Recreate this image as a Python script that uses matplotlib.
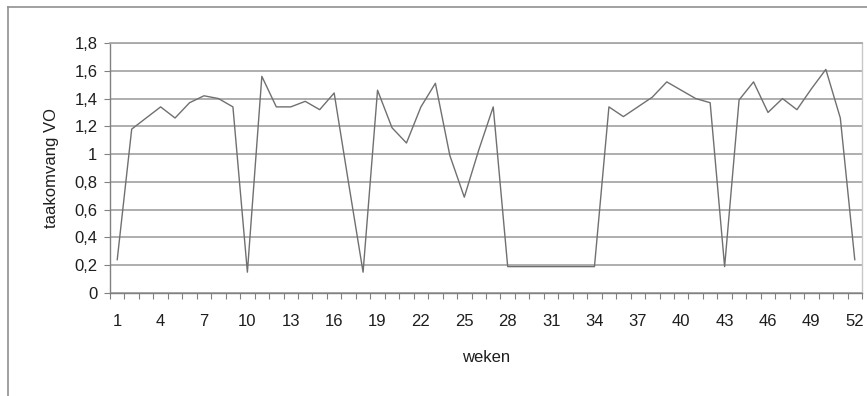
import matplotlib
matplotlib.use("Agg")
import matplotlib.pyplot as plt
from matplotlib.lines import Line2D

plt.rcParams['font.family'] = ['Liberation Sans', 'DejaVu Sans']

# weeknummers en taakomvang VO
weken = list(range(1, 53))
taakomvang = [0.24, 1.18, 1.26, 1.34, 1.26, 1.37, 1.42, 1.40, 1.34, 0.15,
              1.56, 1.34, 1.34, 1.38, 1.32, 1.44, 0.79, 0.15, 1.46, 1.19,
              1.08, 1.34, 1.51, 0.99, 0.69, 1.03, 1.34, 0.19, 0.19, 0.19,
              0.19, 0.19, 0.19, 0.19, 1.34, 1.27, 1.34, 1.41, 1.52, 1.46,
              1.40, 1.37, 0.19, 1.39, 1.52, 1.30, 1.40, 1.32, 1.47, 1.61,
              1.26, 0.24]
y_ticks = [0, 0.2, 0.4, 0.6, 0.8, 1.0, 1.2, 1.4, 1.6, 1.8]
y_labels = ['0', '0,2', '0,4', '0,6', '0,8', '1', '1,2', '1,4', '1,6', '1,8']

fs = 12
tc = '#1e1e1e'

fig = plt.figure(figsize=(8.67, 3.96), dpi=100)
ax = fig.add_axes([110 / 867, 103 / 396, 752 / 867, 250 / 396])

ax.plot(weken, taakomvang, color='#707070', linewidth=1.0, zorder=3)

ax.set_xlim(0.5, 52.5)
ax.set_ylim(0, 1.8)

# rasterlijnen
ax.set_yticks(y_ticks)
ax.set_yticklabels(y_labels)
ax.yaxis.grid(True, color='#a8a8a8', linewidth=1.3)
ax.set_axisbelow(True)

# x-as: labels elke 3 weken, streepjes tussen de categorieën
ax.set_xticks(weken[::3])
ax.set_xticks([w + 0.5 for w in [0] + weken], minor=True)
ax.tick_params(axis='x', which='major', length=0, pad=15, labelsize=fs, labelcolor=tc)
ax.tick_params(axis='x', which='minor', length=4, width=0.8, color='#808080', direction='out')
ax.tick_params(axis='y', length=4, width=0.8, color='#808080', pad=5, labelsize=fs, labelcolor=tc)

for s in ['left', 'bottom']:
    ax.spines[s].set_color('#808080')
    ax.spines[s].set_linewidth(1.0)
ax.spines['top'].set_color('#a8a8a8')
ax.spines['top'].set_linewidth(1.3)
ax.spines['right'].set_color('#c8c8c8')
ax.spines['right'].set_linewidth(1.0)

ax.set_xlabel('weken', fontsize=fs, color=tc, labelpad=15)
ax.set_ylabel('taakomvang VO', fontsize=fs, color=tc, labelpad=11)

# kader om de grafiek
fig.add_artist(Line2D([8 / 867, 8 / 867], [0, 1 - 7 / 396], color='#909090', linewidth=1.2))
fig.add_artist(Line2D([8 / 867, 1], [1 - 7 / 396, 1 - 7 / 396], color='#909090', linewidth=1.2))

fig.savefig('out.png', dpi=100)
